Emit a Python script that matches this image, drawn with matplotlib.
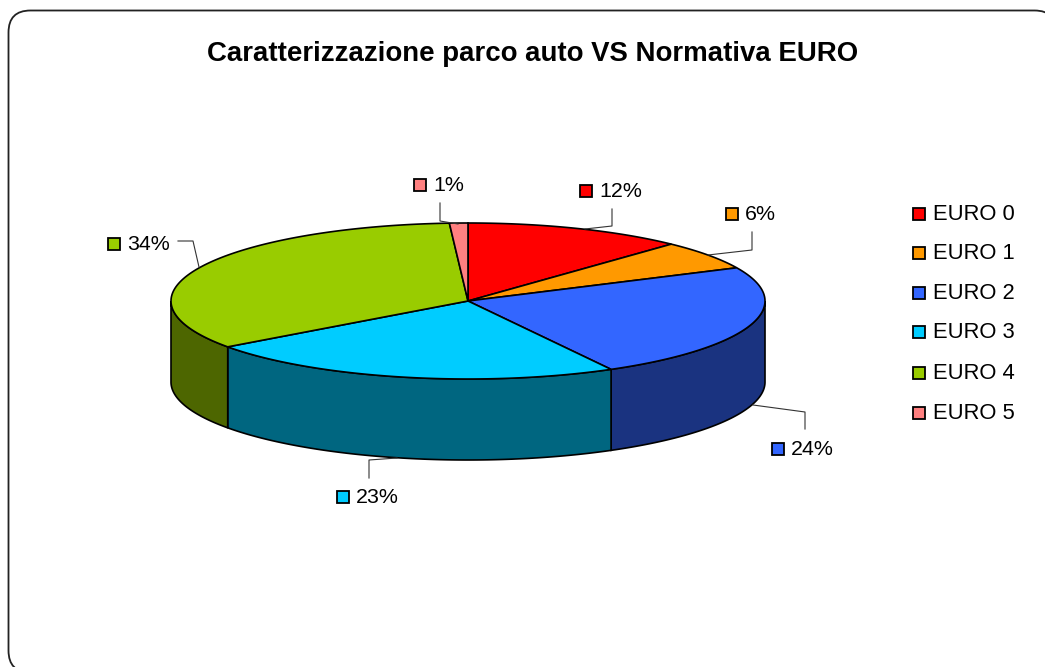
import numpy as np
import matplotlib
matplotlib.use('Agg')
import matplotlib.pyplot as plt
from matplotlib.patches import Polygon, Rectangle, FancyBboxPatch

plt.rcParams['font.family'] = ['Liberation Sans', 'DejaVu Sans']

title = 'Caratterizzazione parco auto VS Normativa EURO'
categories = ['EURO 0', 'EURO 1', 'EURO 2', 'EURO 3', 'EURO 4', 'EURO 5']
values = [12, 6, 24, 23, 34, 1]
colors = ['#FF0000', '#FF9900', '#3366FF', '#00CCFF', '#99CC00', '#FF8080']
dark_colors = ['#800000', '#804D00', '#1A3380', '#006680', '#4D6600', '#804040']

# geometria della torta in pixel
cx, cy = 468, 301
rx, ry = 297, 78
depth = 81

# posizione etichette (x quadratino, y) e linee guida
label_pos = [(586, 191), (732, 214), (778, 449), (343, 497), (114, 244), (420, 185)]
leaders = [
    [(612, 209), (612, 226), (585, 229)],
    [(752, 232), (752, 250), (708, 255)],
    [(805, 429), (805, 412), (753, 405)],
    [(369, 478), (369, 460), (397, 458)],
    [(178, 241), (193, 241), (199, 267)],
    [(440, 203), (440, 221), (458, 224)],
]
legend_y = [214, 253, 293, 332, 373, 413]


def ellipse(theta, dy=0):
    return cx + rx*np.sin(theta), cy + dy - ry*np.cos(theta)


def square(ax, x, y, color):
    ax.add_patch(Rectangle((x-6, y-6), 12, 12, fc=color, ec='black', lw=1.3, zorder=5))


fig = plt.figure(figsize=(10.45, 6.67), dpi=100)
ax = fig.add_axes([0, 0, 1, 1])
ax.set_xlim(0, 1045)
ax.set_ylim(667, 0)
ax.axis('off')

# cornice arrotondata, tagliata a destra e in basso
ax.add_patch(FancyBboxPatch((30.5, 32.5), 1004, 618, boxstyle='round,pad=22,rounding_size=22',
                            fc='white', ec='#222222', lw=1.3, clip_on=True, zorder=0))

ax.text(533, 54, title, fontsize=19.9, fontweight='bold', ha='center', va='center')

edges = np.cumsum([0] + values) / sum(values) * 2*np.pi

# pareti laterali (solo la parte anteriore, da 90 a 270 gradi)
for i in range(len(values)):
    a = max(edges[i], np.pi/2)
    b = min(edges[i+1], 3*np.pi/2)
    if b <= a:
        continue
    t = np.linspace(a, b, 120)
    xt, yt = ellipse(t)
    xb, yb = ellipse(t, depth)
    pts = np.column_stack([np.r_[xt, xb[::-1]], np.r_[yt, yb[::-1]]])
    ax.add_patch(Polygon(pts, closed=True, fc=dark_colors[i], ec='black', lw=1.2, zorder=2))

# spicchi superiori
for i in range(len(values)):
    t = np.linspace(edges[i], edges[i+1], 120)
    xt, yt = ellipse(t)
    pts = np.column_stack([np.r_[cx, xt], np.r_[cy, yt]])
    ax.add_patch(Polygon(pts, closed=True, fc=colors[i], ec='black', lw=1.2, zorder=3))

# etichette percentuali
for i in range(len(values)):
    lx, ly = label_pos[i]
    square(ax, lx, ly, colors[i])
    ax.text(lx+13, ly+0.5, '%d%%' % values[i], fontsize=15.4, ha='left', va='center', color='black', zorder=5)
    xs, ys = zip(*leaders[i])
    ax.plot(xs, ys, color='#333333', lw=0.8, zorder=4)

# legenda
for i in range(len(categories)):
    square(ax, 919, legend_y[i], colors[i])
    ax.text(933, legend_y[i]+0.5, categories[i], fontsize=15.8, ha='left', va='center', color='black')

fig.savefig('out.png', dpi=100)
